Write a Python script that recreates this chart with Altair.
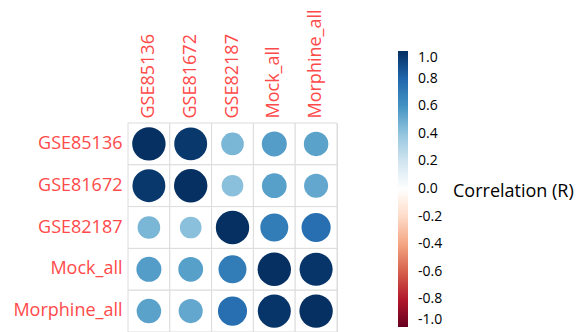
import altair as alt
import pandas as pd

# Samples compared, in matrix order (rows top to bottom, columns left to right)
samples = ["GSE85136", "GSE81672", "GSE82187", "Mock_all", "Morphine_all"]

# Pearson correlation matrix, one row per sample
corr_rows = [
    [1.00, 0.97, 0.46, 0.56, 0.54],
    [0.97, 1.00, 0.42, 0.55, 0.52],
    [0.46, 0.42, 1.00, 0.70, 0.76],
    [0.56, 0.55, 0.70, 1.00, 0.98],
    [0.54, 0.52, 0.76, 0.98, 1.00],
]

# Colour bar tick values and caption
legend_ticks = [1.0, 0.8, 0.6, 0.4, 0.2, 0.0, -0.2, -0.4, -0.6, -0.8, -1.0]
legend_title = "Correlation (R)"

# Red-white-blue diverging palette, anchored at -1 ... 1 in steps of 0.2
palette_stops = [-1.0, -0.8, -0.6, -0.4, -0.2, 0.0, 0.2, 0.4, 0.6, 0.8, 1.0]
palette_colors = [
    "#67001F", "#B2182B", "#D6604D", "#F4A582", "#FDDBC7", "#FFFFFF",
    "#D1E5F0", "#92C5DE", "#4393C3", "#2166AC", "#053061",
]

records = []
for i, row_name in enumerate(samples):
    for j, col_name in enumerate(samples):
        records.append({"row": row_name, "col": col_name, "r": corr_rows[i][j]})
df = pd.DataFrame(records)

FONT = "Open Sans"
LABEL_RED = "#ff4a4a"

x_enc = alt.X(
    "col:N",
    sort=samples,
    title=None,
    axis=alt.Axis(
        orient="top",
        labelAngle=-90,
        labelAlign="left",
        labelBaseline="middle",
        labelColor=LABEL_RED,
        labelFont=FONT,
        labelFontSize=18,
        labelPadding=5,
        domain=False,
        ticks=False,
        grid=False,
    ),
)
y_enc = alt.Y(
    "row:N",
    sort=samples,
    title=None,
    axis=alt.Axis(
        labelColor=LABEL_RED,
        labelFont=FONT,
        labelFontSize=18,
        labelPadding=6,
        domain=False,
        ticks=False,
        grid=False,
    ),
)

base = alt.Chart(df).encode(x=x_enc, y=y_enc)

cells = base.mark_rect(fill="white", stroke="#dcdcdc", strokeWidth=1)

circles = (
    base.transform_calculate(abs_r="abs(datum.r)")
    .mark_circle(opacity=1)
    .encode(
        size=alt.Size(
            "abs_r:Q",
            scale=alt.Scale(domain=[0, 1], range=[0, 1116], zero=True),
            legend=None,
        ),
        color=alt.Color(
            "r:Q",
            scale=alt.Scale(domain=palette_stops, range=palette_colors, interpolate="rgb"),
            legend=alt.Legend(
                title=None,
                orient="none",
                legendX=270,
                legendY=-72,
                direction="vertical",
                gradientLength=276,
                gradientThickness=10,
                gradientStrokeWidth=0,
                values=legend_ticks,
                labelExpr="(datum.value < 0 ? '-' : '') + format(abs(datum.value), '.1f')",
                labelFont=FONT,
                labelFontSize=14,
                labelColor="#000000",
                labelOffset=10,
                labelBaseline="middle",
                labelOverlap=False,
            ),
        ),
    )
)

# Caption of the colour bar, set beside its 0.0 label
caption = (
    alt.Chart(pd.DataFrame({"t": [legend_title]}))
    .mark_text(font=FONT, fontSize=18, color="#000000", align="left", baseline="middle")
    .encode(text="t:N", x=alt.value(325), y=alt.value(69))
)

chart = (
    alt.layer(cells, circles, caption)
    .properties(
        width=209,
        height=209,
        autosize=alt.AutoSizeParams(type="none"),
        padding={"left": 128, "top": 123, "right": 248, "bottom": 0},
    )
    .configure_view(stroke=None)
    .configure(background="white")
)

chart.save("out.html", embed_options={"renderer": "svg", "actions": False})
